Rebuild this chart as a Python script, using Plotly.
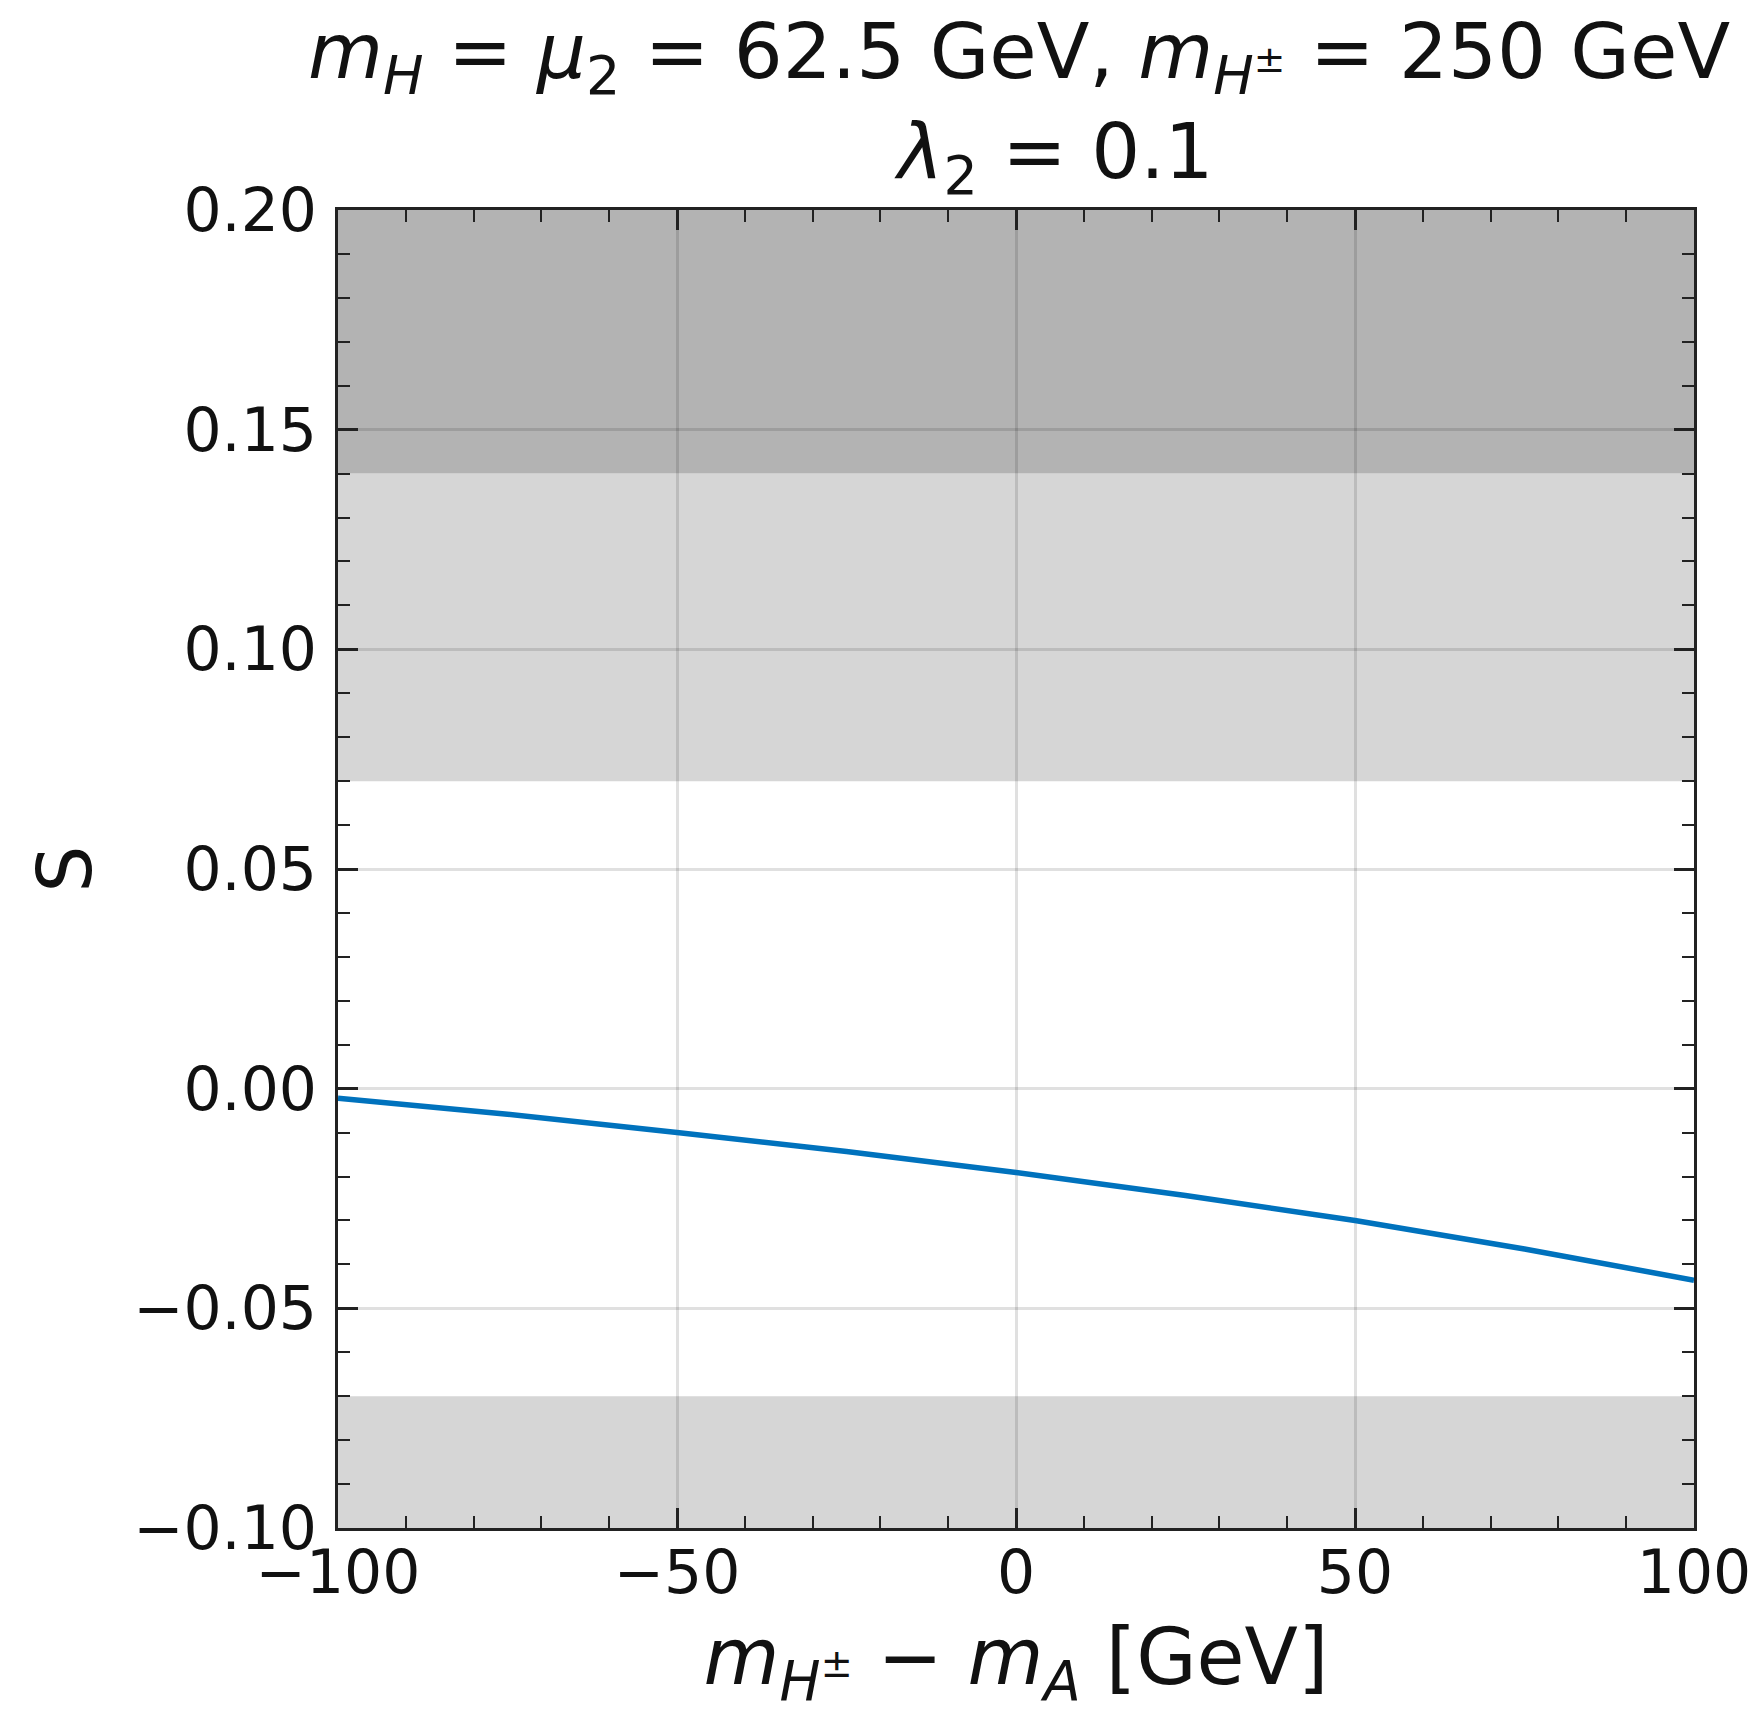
import plotly.graph_objects as go

# ---- data ----
delta_m = [-100, -75, -50, -25, 0, 25, 50, 75, 100]          # m_H± - m_A [GeV]
S_vals = [-0.0022, -0.0058, -0.0100, -0.0143, -0.0191, -0.0243, -0.0300, -0.0365, -0.0436]

# excluded bands (S ranges)
dark_band = [0.14, 0.20]
light_bands = [[0.07, 0.14], [-0.10, -0.07]]

x_ticks = [-100, -50, 0, 50, 100]
y_ticks = [-0.10, -0.05, 0.00, 0.05, 0.10, 0.15, 0.20]
y_ticktext = ["\u22120.10", "\u22120.05", "0.00", "0.05", "0.10", "0.15", "0.20"]
x_ticktext = ["\u2212100", "\u221250", "0", "50", "100"]

FONT = "DejaVu Sans"

fig = go.Figure()
fig.add_trace(go.Scatter(x=delta_m, y=S_vals, mode="lines",
                         line=dict(color="#0072bd", width=5.5),
                         showlegend=False))

for lo, hi in light_bands:
    fig.add_shape(type="rect", xref="paper", x0=0, x1=1, yref="y", y0=lo, y1=hi,
                  fillcolor="#d6d6d6", line_width=0, layer="below")
fig.add_shape(type="rect", xref="paper", x0=0, x1=1, yref="y", y0=dark_band[0], y1=dark_band[1],
              fillcolor="#b3b3b3", line_width=0, layer="below")

axis_common = dict(
    showline=True, linecolor="#222222", linewidth=3, mirror="allticks",
    ticks="inside", ticklen=20, tickwidth=3, tickcolor="#222222",
    showgrid=True, gridcolor="rgba(0,0,0,0.12)", gridwidth=3,
    zeroline=False,
    tickfont=dict(family=FONT, size=60, color="#111111"),
)

fig.update_xaxes(range=[-100, 100], tickvals=x_ticks, ticktext=x_ticktext,
                 ticklabelstandoff=-10,
                 minor=dict(ticks="inside", ticklen=12, tickwidth=2, tickcolor="#222222",
                            dtick=10, tick0=0, showgrid=False),
                 title=dict(text="<i>m</i><sub><i>H</i><sup>\u00b1</sup></sub> \u2212 <i>m</i><sub><i>A</i></sub> [GeV]",
                            font=dict(family=FONT, size=78, color="#111111"), standoff=28),
                 **axis_common)
fig.update_yaxes(range=[-0.10, 0.20], tickvals=y_ticks, ticktext=y_ticktext,
                 ticklabelstandoff=6,
                 minor=dict(ticks="inside", ticklen=12, tickwidth=2, tickcolor="#222222",
                            dtick=0.01, tick0=0, showgrid=False),
                 title=dict(text="S", font=dict(family=FONT, size=74, color="#111111"), standoff=18),
                 **axis_common)

fig.update_layout(
    width=1763, height=1713,
    margin=dict(l=338, r=63, t=210, b=185),
    plot_bgcolor="white", paper_bgcolor="white",
    title=dict(
        text="<i>m</i><sub><i>H</i></sub> = <i>\u03bc</i><sub>2</sub> = 62.5 GeV, "
             "<i>m</i><sub><i>H</i><sup>\u00b1</sup></sub> = 250 GeV<br>\u00a0\u00a0\u00a0<i>\u03bb</i><sub>2</sub> = 0.1",
        x=(338 + 1700) / 2 / 1763, xanchor="center",
        y=1, yanchor="bottom", yref="paper",
        pad=dict(b=132),
        font=dict(family=FONT, size=77, color="#111111"),
    ),
)

fig.write_html("out.html")
